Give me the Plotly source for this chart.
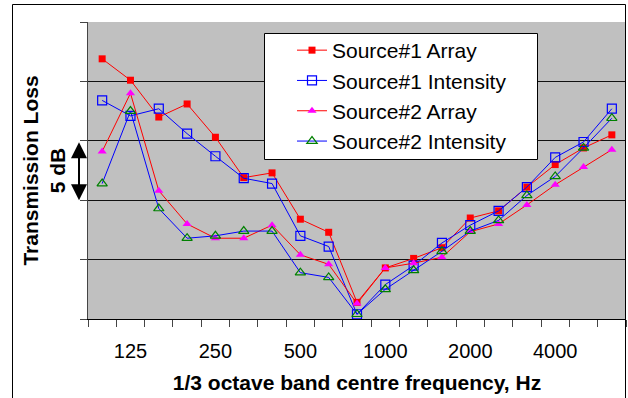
import plotly.graph_objects as go

categories = ["100", "125", "160", "200", "250", "315", "400", "500", "630", "800",
              "1000", "1250", "1600", "2000", "2500", "3150", "4000", "5000", "6300"]
shown_labels = ["125", "250", "500", "1000", "2000", "4000"]

s1_array = [21.9, 20.1, 17.0, 18.1, 15.3, 11.9, 12.3, 8.4, 7.3, 1.4,
            4.3, 5.1, 6.0, 8.5, 9.1, 11.1, 13.0, 14.4, 15.5]
s1_intensity = [18.4, 17.1, 17.7, 15.6, 13.7, 11.85, 11.4, 7.0, 6.1, 0.4,
                2.9, 4.5, 6.4, 7.9, 9.1, 11.1, 13.6, 14.9, 17.7]
s2_array = [14.1, 19.0, 10.8, 8.0, 6.8, 6.8, 7.9, 5.4, 4.6, 1.3,
            4.3, 4.7, 5.2, 7.35, 8.0, 9.6, 11.3, 12.8, 14.25]
s2_intensity = [11.4, 17.5, 9.3, 6.8, 7.0, 7.4, 7.4, 3.9, 3.5, 0.4,
                2.5, 4.1, 5.7, 7.4, 8.3, 10.4, 12.0, 14.4, 16.9]

FONT = "Liberation Sans, Arial, sans-serif"

fig = go.Figure()
fig.add_trace(go.Scatter(x=categories, y=s1_array, name="Source#1 Array", mode="lines+markers",
                         line=dict(color="#FF0000", width=1),
                         marker=dict(symbol="square", size=7, color="#FF0000")))
fig.add_trace(go.Scatter(x=categories, y=s1_intensity, name="Source#1 Intensity", mode="lines+markers",
                         line=dict(color="#0000FF", width=1),
                         marker=dict(symbol="square-open", size=9, color="#0000FF",
                                     line=dict(width=1.2, color="#2222FF"))))
fig.add_trace(go.Scatter(x=categories, y=s2_array, name="Source#2 Array", mode="lines+markers",
                         line=dict(color="#FF0000", width=1),
                         marker=dict(symbol="triangle-up", size=8, color="#FF00FF")))
fig.add_trace(go.Scatter(x=categories, y=s2_intensity, name="Source#2 Intensity", mode="lines+markers",
                         line=dict(color="#0000FF", width=1),
                         marker=dict(symbol="triangle-up-open", size=9, color="#008000",
                                     line=dict(width=1.2, color="#008000"))))

L, R, T, B = 88, 2, 22, 79
W, H = 628, 398
pw, ph = W - L - R, H - T - B


def px_x(p):
    return (p - L) / pw


def px_y(p):
    return (H - B - p) / ph


fig.update_layout(
    width=W, height=H,
    margin=dict(l=L, r=R, t=T, b=B, pad=0, autoexpand=False),
    paper_bgcolor="white",
    plot_bgcolor="#C0C0C0",
    font=dict(family=FONT, color="black"),
    showlegend=True,
    legend=dict(x=px_x(292), y=px_y(30), xanchor="left", yanchor="top",
                bgcolor="rgba(0,0,0,0)", borderwidth=0,
                font=dict(size=21, family=FONT, color="black")),
    xaxis=dict(type="category", categoryorder="array", categoryarray=categories,
               range=[-0.5, len(categories) - 0.5], autorange=False,
               tickmode="array", tickvals=categories,
               ticktext=[c if c in shown_labels else "" for c in categories],
               tickson="boundaries", ticks="outside", ticklen=7, tickcolor="#444",
               tickangle=0, automargin=False,
               showgrid=False, showline=True, linecolor="black", linewidth=1,
               tickfont=dict(size=20, family=FONT, color="black"),
               ticklabelstandoff=14,
               title=dict(text="1/3 octave band centre frequency, Hz",
                          font=dict(size=21, family=FONT, color="black", weight="bold"),
                          standoff=14)),
    yaxis=dict(range=[0, 25], dtick=5, tick0=0, showgrid=True, gridcolor="#111", gridwidth=1,
               zeroline=False, showline=True, linecolor="#444", linewidth=1, automargin=False,
               ticks="outside", ticklen=7, tickcolor="#444", showticklabels=False,
               title=dict(text="Transmission Loss<br>5 dB",
                          font=dict(size=21, family=FONT, color="black", weight="bold"),
                          standoff=8)),
    shapes=[
        dict(type="rect", xref="paper", yref="paper",
             x0=px_x(12.5), x1=px_x(625.5), y0=px_y(470), y1=px_y(4.5),
             line=dict(color="black", width=1), fillcolor="rgba(0,0,0,0)", layer="above"),
        dict(type="rect", xref="paper", yref="paper",
             x0=px_x(264.5), x1=px_x(537.5), y0=px_y(159.5), y1=px_y(33.5),
             line=dict(color="black", width=1), fillcolor="white", layer="above"),
    ],
    annotations=[
        dict(x=px_x(79), y=10, xref="paper", yref="y", ax=0, ay=-59.4, axref="pixel", ayref="pixel",
             text="", showarrow=True, arrowside="end+start", arrowhead=2, arrowsize=1.6,
             arrowwidth=2, arrowcolor="black", standoff=0, startstandoff=0, startarrowhead=2,
             startarrowsize=1.6),
    ],
)

fig.write_html("out.html")
